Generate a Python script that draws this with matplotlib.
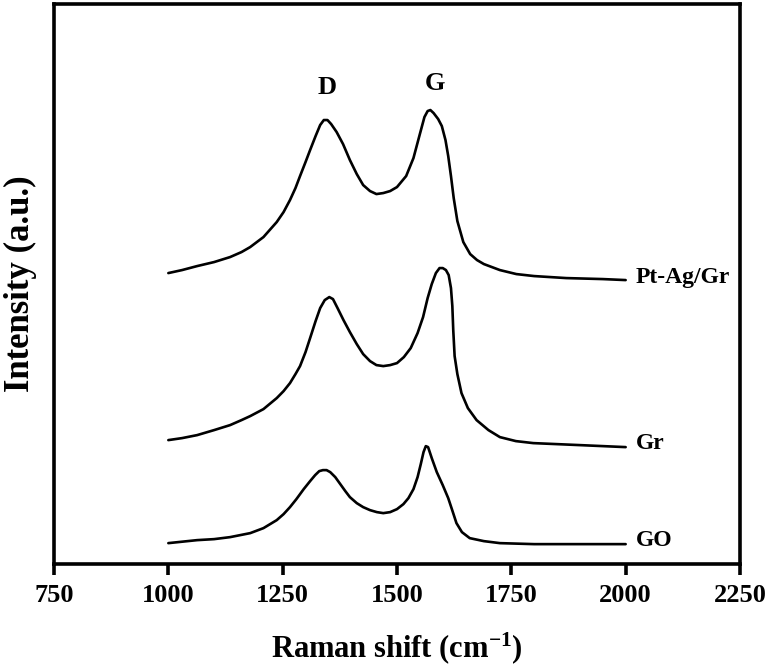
import matplotlib
matplotlib.use("Agg")
import matplotlib.pyplot as plt

plt.rcParams['font.family'] = ['Liberation Serif', 'DejaVu Serif']
plt.rcParams['font.weight'] = 'bold'
plt.rcParams['mathtext.fontset'] = 'custom'
plt.rcParams['mathtext.rm'] = 'Liberation Serif:bold'
plt.rcParams['mathtext.it'] = 'Liberation Serif:bold'
plt.rcParams['mathtext.bf'] = 'Liberation Serif:bold'

# Raman shift (cm^-1) and intensity (a.u., offset stacked)
ptag_x = [1000, 1030, 1063, 1100, 1135, 1160, 1179, 1208, 1237, 1252, 1266, 1278,
          1288, 1300, 1310, 1322, 1332, 1340, 1348, 1356, 1368, 1382, 1397, 1412,
          1426, 1441, 1455, 1470, 1485, 1500, 1520, 1536, 1550, 1560, 1567, 1573,
          1580, 1590, 1598, 1606, 1612, 1618, 1624, 1632, 1645, 1660, 1675, 1690,
          1725, 1761, 1800, 1870, 1950, 2000]
ptag_y = [291, 294, 298, 302, 307, 312, 317, 327, 342, 352, 364, 376,
          388, 402, 414, 428, 439, 444, 444, 440, 432, 420, 404, 390,
          379, 373, 370, 371, 373, 377, 388, 406, 430, 447, 453, 454,
          451, 445, 438, 424, 408, 388, 366, 343, 322, 310, 304, 300,
          294, 290, 288, 286, 285, 284]

gr_x = [1000, 1030, 1063, 1100, 1135, 1160, 1179, 1208, 1237, 1252, 1266, 1278,
        1288, 1300, 1310, 1322, 1332, 1342, 1352, 1360, 1370, 1383, 1397, 1412,
        1426, 1441, 1455, 1470, 1485, 1500, 1515, 1530, 1545, 1557, 1567, 1576,
        1585, 1593, 1600, 1607, 1613, 1618, 1621, 1623, 1626, 1632, 1641, 1655,
        1674, 1700, 1725, 1760, 1798, 1900, 2000]
gr_y = [124, 126, 129, 134, 139, 144, 148, 155, 166, 173, 181, 190,
        198, 212, 226, 243, 256, 264, 267, 265, 256, 244, 232, 220,
        210, 203, 199, 198, 199, 201, 207, 216, 231, 247, 266, 280,
        291, 296, 296, 294, 289, 276, 258, 234, 208, 190, 171, 156,
        144, 134, 127, 123, 121, 119, 117]

go_x = [1000, 1063, 1100, 1135, 1179, 1208, 1237, 1252, 1266, 1280, 1296, 1310,
        1321, 1330, 1338, 1346, 1354, 1365, 1376, 1387, 1397, 1412, 1426, 1441,
        1456, 1470, 1485, 1500, 1514, 1525, 1536, 1545, 1552, 1558, 1563, 1568,
        1576, 1587, 1600, 1612, 1620, 1630, 1642, 1659, 1690, 1725, 1800, 2000]
go_y = [21, 24, 25, 27, 31, 36, 44, 50, 57, 65, 75, 83,
        89, 93, 94, 94, 92, 87, 80, 73, 67, 61, 57, 54,
        52, 51, 52, 55, 60, 66, 75, 87, 100, 112, 118, 117,
        106, 92, 79, 66, 55, 41, 32, 26, 23, 21, 20, 20]

series_labels = ['Pt-Ag/Gr', 'Gr', 'GO']
label_y = [287, 121, 24]
peak_names = ['D', 'G']
peak_x = [1347, 1583]
peak_y = [477, 481]

xticks = [750, 1000, 1250, 1500, 1750, 2000, 2250]

fig = plt.figure(figsize=(7.67, 6.70), dpi=100)
ax = fig.add_axes([0.0704, 0.158, 0.8944, 0.836])

for xs, ys in [(ptag_x, ptag_y), (gr_x, gr_y), (go_x, go_y)]:
    ax.plot(xs, ys, color='black', linewidth=1.9, solid_joinstyle='round',
            solid_capstyle='round')

for name, yy in zip(series_labels, label_y):
    ax.text(2022, yy, name, fontsize=17, fontweight='bold', ha='left', va='center')

for name, xx, yy in zip(peak_names, peak_x, peak_y):
    ax.text(xx, yy, name, fontsize=19, fontweight='bold', ha='center', va='center')

ax.set_xlim(750, 2250)
ax.set_ylim(0, 560)
ax.set_xticks(xticks)
ax.set_xticklabels([str(t) for t in xticks])
ax.set_yticks([])
for s in ax.spines.values():
    s.set_linewidth(2.6)
ax.tick_params(axis='x', direction='out', length=8, width=2.6, labelsize=19, pad=6)
for lbl in ax.get_xticklabels():
    lbl.set_fontweight('bold')

ax.set_xlabel(r'Raman shift (cm$^{-1}$)', fontsize=22, fontweight='bold', labelpad=17)
ax.set_ylabel('Intensity (a.u.)', fontsize=25, fontweight='bold', labelpad=12)

fig.savefig('out.png', dpi=100)
